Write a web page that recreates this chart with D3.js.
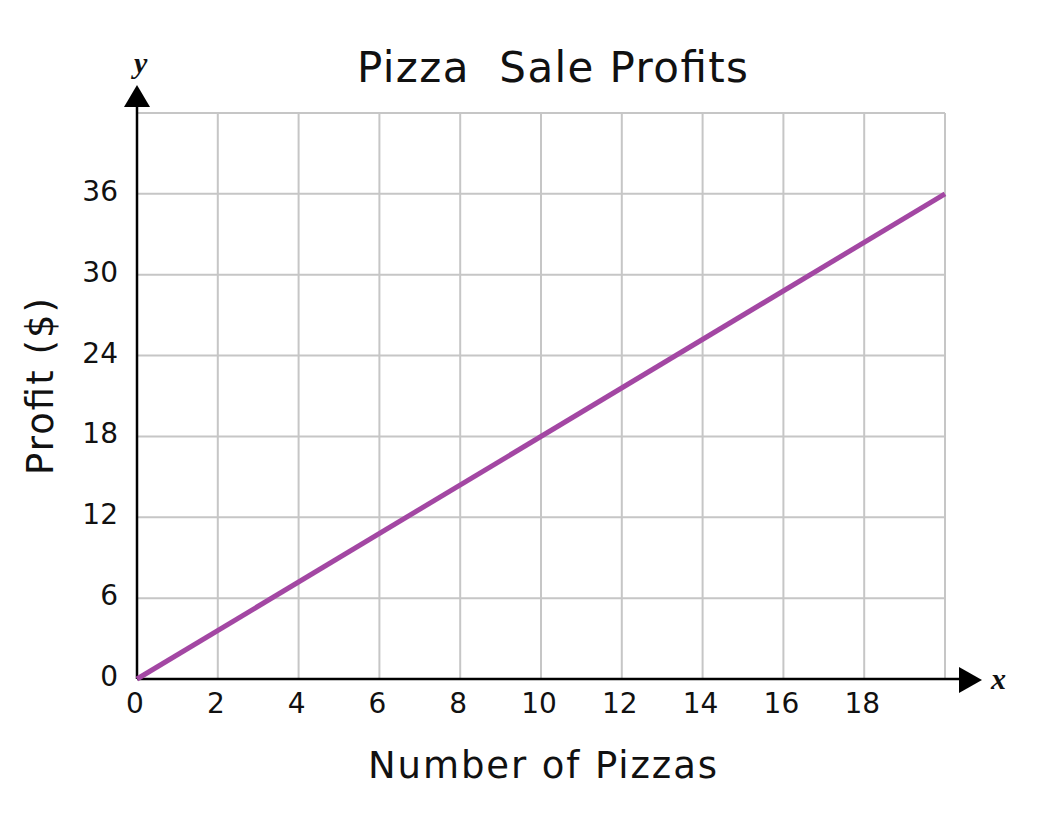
<!DOCTYPE html>
<meta charset="utf-8">
<head>
  <script src="https://d3js.org/d3.v7.min.js"></script>
  <style>
    body { margin: 0; background: #fff; }
    text { font-family: "DejaVu Sans", Verdana, sans-serif; fill: #111; }
  </style>
</head>
<body>
<div id="container"></div>
<script>
// Data
var lineX = [0, 20];
var lineY = [0, 36];
var xTicks = [0, 2, 4, 6, 8, 10, 12, 14, 16, 18];
var yTicks = [0, 6, 12, 18, 24, 30, 36];
var xGrid = [2, 4, 6, 8, 10, 12, 14, 16, 18, 20];
var yGrid = [6, 12, 18, 24, 30, 36, 42];

var width = 1060, height = 818;

var svg = d3.select("#container")
  .append("svg")
  .attr("width", width)
  .attr("height", height);

var x = d3.scaleLinear().domain([0, 20]).range([137, 945]);
var y = d3.scaleLinear().domain([0, 42]).range([679, 113]);

// grid
svg.append("g").selectAll("line")
  .data(xGrid).enter().append("line")
  .attr("x1", function (d) { return x(d); })
  .attr("x2", function (d) { return x(d); })
  .attr("y1", y(0))
  .attr("y2", y(42))
  .attr("stroke", "#c6c6c6")
  .attr("stroke-width", 2);

svg.append("g").selectAll("line")
  .data(yGrid).enter().append("line")
  .attr("x1", x(0))
  .attr("x2", x(20))
  .attr("y1", function (d) { return y(d); })
  .attr("y2", function (d) { return y(d); })
  .attr("stroke", "#c6c6c6")
  .attr("stroke-width", 2);

// axes with arrows
svg.append("line")
  .attr("x1", x(0)).attr("x2", 962)
  .attr("y1", y(0)).attr("y2", y(0))
  .attr("stroke", "#000").attr("stroke-width", 2.5);
svg.append("path")
  .attr("d", "M959,667 L982,680 L959,693 Z")
  .attr("fill", "#000");

svg.append("line")
  .attr("x1", x(0)).attr("x2", x(0))
  .attr("y1", y(0)).attr("y2", 104)
  .attr("stroke", "#000").attr("stroke-width", 2.5);
svg.append("path")
  .attr("d", "M124,107 L137,85 L150,107 Z")
  .attr("fill", "#000");

svg.append("text")
  .attr("x", 991).attr("y", 689)
  .style("font-family", "'Liberation Serif', serif")
  .style("font-style", "italic").style("font-weight", "bold")
  .style("font-size", "30px")
  .text("x");
svg.append("text")
  .attr("x", 134).attr("y", 73)
  .style("font-family", "'Liberation Serif', serif")
  .style("font-style", "italic").style("font-weight", "bold")
  .style("font-size", "30px")
  .text("y");

// tick labels
svg.append("g").selectAll("text")
  .data(xTicks).enter().append("text")
  .attr("x", function (d) { return x(d) - 2; })
  .attr("y", 713)
  .attr("text-anchor", "middle")
  .style("font-size", "28px")
  .text(function (d) { return d; });

svg.append("g").selectAll("text")
  .data(yTicks).enter().append("text")
  .attr("x", 118)
  .attr("y", function (d) { return y(d) + 7; })
  .attr("text-anchor", "end")
  .style("font-size", "28px")
  .text(function (d) { return d; });

// data line
var line = d3.line()
  .x(function (d, i) { return x(lineX[i]); })
  .y(function (d) { return y(d); });

svg.append("path")
  .datum(lineY)
  .attr("d", line)
  .attr("fill", "none")
  .attr("stroke", "#a347a3")
  .attr("stroke-width", 5);

// titles
svg.append("text")
  .attr("x", 357).attr("y", 82)
  .attr("textLength", 391)
  .attr("lengthAdjust", "spacing")
  .style("font-size", "42px")
  .style("white-space", "pre")
  .text("Pizza  Sale Profits");

svg.append("text")
  .attr("x", 368).attr("y", 778)
  .attr("textLength", 349)
  .attr("lengthAdjust", "spacing")
  .style("font-size", "37px")
  .text("Number of Pizzas");

svg.append("text")
  .attr("transform", "translate(53,475) rotate(-90)")
  .attr("textLength", 177)
  .attr("lengthAdjust", "spacing")
  .style("font-size", "37px")
  .text("Profit ($)");
</script>
</body>
